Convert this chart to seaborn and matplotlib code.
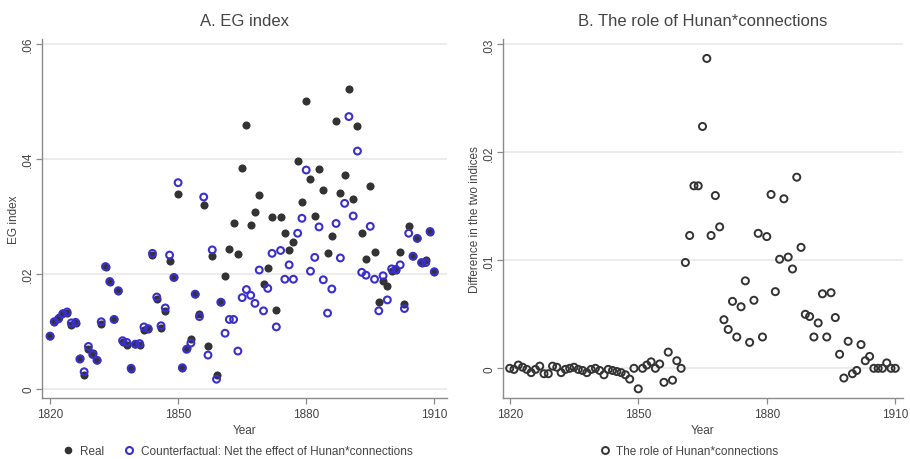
import matplotlib
matplotlib.use("Agg")
import matplotlib.pyplot as plt
from matplotlib.lines import Line2D
import seaborn as sns
import pandas as pd

years = list(range(1820, 1911))

real = [0.0092, 0.0116, 0.0125, 0.0132, 0.0133, 0.0111, 0.0115, 0.0054, 0.0025, 0.0069,
        0.0062, 0.0051, 0.0113, 0.0212, 0.0187, 0.0122, 0.0170, 0.0082, 0.0077, 0.0035,
        0.0078, 0.0077, 0.0102, 0.0104, 0.0234, 0.0157, 0.0106, 0.0135, 0.0223, 0.0194,
        0.0340, 0.0037, 0.0072, 0.0087, 0.0165, 0.0130, 0.0321, 0.0075, 0.0232, 0.0024,
        0.0151, 0.0196, 0.0243, 0.0289, 0.0235, 0.0384, 0.0459, 0.0286, 0.0308, 0.0338,
        0.0183, 0.0210, 0.0299, 0.0137, 0.0299, 0.0271, 0.0241, 0.0255, 0.0396, 0.0326,
        0.0501, 0.0365, 0.0301, 0.0383, 0.0346, 0.0236, 0.0266, 0.0466, 0.0341, 0.0372,
        0.0522, 0.0330, 0.0457, 0.0272, 0.0227, 0.0354, 0.0239, 0.0151, 0.0188, 0.0180,
        0.0206, 0.0207, 0.0239, 0.0148, 0.0284, 0.0231, 0.0262, 0.0220, 0.0225, 0.0274,
        0.0204]

counterfactual = [0.0092, 0.0117, 0.0122, 0.0131, 0.0134, 0.0115, 0.0116, 0.0052, 0.0030, 0.0074,
                  0.0060, 0.0050, 0.0117, 0.0213, 0.0187, 0.0121, 0.0171, 0.0084, 0.0081, 0.0036,
                  0.0078, 0.0079, 0.0108, 0.0105, 0.0236, 0.0160, 0.0110, 0.0141, 0.0233, 0.0194,
                  0.0359, 0.0037, 0.0069, 0.0080, 0.0165, 0.0126, 0.0334, 0.0059, 0.0242, 0.0017,
                  0.0151, 0.0097, 0.0121, 0.0121, 0.0066, 0.0159, 0.0173, 0.0163, 0.0149, 0.0207,
                  0.0136, 0.0175, 0.0236, 0.0108, 0.0241, 0.0191, 0.0216, 0.0191, 0.0271, 0.0297,
                  0.0381, 0.0205, 0.0229, 0.0282, 0.0190, 0.0132, 0.0174, 0.0288, 0.0228, 0.0323,
                  0.0474, 0.0301, 0.0414, 0.0203, 0.0198, 0.0283, 0.0191, 0.0136, 0.0197, 0.0155,
                  0.0209, 0.0208, 0.0216, 0.0140, 0.0271, 0.0231, 0.0262, 0.0220, 0.0220, 0.0274,
                  0.0204]

difference = [0.0, -0.0001, 0.0003, 0.0001, -0.0001, -0.0004, -0.0001, 0.0002, -0.0005, -0.0005,
              0.0002, 0.0001, -0.0004, -0.0001, 0.0, 0.0001, -0.0001, -0.0002, -0.0004, -0.0001,
              0.0, -0.0002, -0.0006, -0.0001, -0.0002, -0.0003, -0.0004, -0.0006, -0.0010, 0.0,
              -0.0019, 0.0, 0.0003, 0.0006, 0.0, 0.0004, -0.0013, 0.0015, -0.0011, 0.0007,
              0.0, 0.0098, 0.0123, 0.0169, 0.0169, 0.0224, 0.0287, 0.0123, 0.0160, 0.0131,
              0.0045, 0.0036, 0.0062, 0.0029, 0.0057, 0.0081, 0.0024, 0.0063, 0.0125, 0.0029,
              0.0122, 0.0161, 0.0071, 0.0101, 0.0157, 0.0103, 0.0092, 0.0177, 0.0112, 0.0050,
              0.0048, 0.0029, 0.0042, 0.0069, 0.0029, 0.0070, 0.0047, 0.0013, -0.0009, 0.0025,
              -0.0005, -0.0002, 0.0022, 0.0007, 0.0011, 0.0, 0.0, 0.0, 0.0005, 0.0,
              0.0]

x_ticks = [1820, 1850, 1880, 1910]
y_ticks_a = [0, 0.02, 0.04, 0.06]
y_ticklabels_a = ["0", ".02", ".04", ".06"]
y_ticks_b = [0, 0.01, 0.02, 0.03]
y_ticklabels_b = ["0", ".01", ".02", ".03"]

title_a = "A. EG index"
title_b = "B. The role of Hunan*connections"
label_real = "Real"
label_cf = "Counterfactual: Net the effect of Hunan*connections"
label_diff = "The role of Hunan*connections"

df_a = pd.DataFrame({"Year": years, "real": real, "cf": counterfactual})
df_b = pd.DataFrame({"Year": years, "diff": difference})

sns.set_style("white")
plt.rcParams["font.family"] = ["Liberation Sans", "DejaVu Sans"]

TXT = "#444444"
AX = "#8a8a8a"
GRID = "#ececec"
DARK = "#333333"
BLUE = "#3a2fcc"

fig = plt.figure(figsize=(9.1, 4.6), dpi=100)
ax1 = fig.add_axes([42 / 910, 1 - 399 / 460, 405 / 910, 359 / 460])
ax2 = fig.add_axes([503 / 910, 1 - 399 / 460, 400 / 910, 359 / 460])


def style(ax, yticks, ylabels, ylim, xlim, ylabel, title):
    ax.set_xlim(*xlim)
    ax.set_ylim(*ylim)
    ax.set_xticks(x_ticks)
    ax.set_xticklabels([str(t) for t in x_ticks])
    ax.set_yticks(yticks)
    ax.set_yticklabels(ylabels, rotation=90, va="center")
    for y in yticks:
        ax.axhline(y, color=GRID, lw=1.4, zorder=0)
    for s in ["top", "right"]:
        ax.spines[s].set_visible(False)
    for s in ["left", "bottom"]:
        ax.spines[s].set_color(AX)
        ax.spines[s].set_linewidth(1.0)
    ax.tick_params(axis="both", colors=AX, labelcolor=TXT, labelsize=8.5,
                   length=4, width=0.9, direction="out", left=True, bottom=True, pad=3)
    ax.tick_params(axis="y", pad=1.5)
    ax.set_xlabel("Year", color=TXT, fontsize=8.5, labelpad=3)
    ax.set_ylabel(ylabel, color=TXT, fontsize=8.5, labelpad=2)
    ax.set_title(title, color=TXT, fontsize=12, pad=10)


sns.scatterplot(data=df_a, x="Year", y="real", ax=ax1, color=DARK, s=34,
                linewidth=0, zorder=3, legend=False)
sns.scatterplot(data=df_a, x="Year", y="cf", ax=ax1, facecolor="none",
                edgecolor=BLUE, s=24, linewidth=1.5, zorder=4, legend=False)
style(ax1, y_ticks_a, y_ticklabels_a, (-0.00157, 0.0609), (1818.13, 1912.97),
      "EG index", title_a)

sns.scatterplot(data=df_b, x="Year", y="diff", ax=ax2, facecolor="none",
                edgecolor=DARK, s=26, linewidth=1.4, zorder=3, legend=False)
style(ax2, y_ticks_b, y_ticklabels_b, (-0.00275, 0.0305), (1818.43, 1911.8),
      "Difference in the two indices", title_b)

h_real = Line2D([], [], marker="o", ls="none", color=DARK, markersize=5.5,
                markeredgewidth=0)
h_cf = Line2D([], [], marker="o", ls="none", markerfacecolor="none",
              markeredgecolor=BLUE, markersize=5, markeredgewidth=1.5)
h_diff = Line2D([], [], marker="o", ls="none", markerfacecolor="none",
                markeredgecolor=DARK, markersize=5, markeredgewidth=1.4)

ax1.legend([h_real, h_cf], [label_real, label_cf], ncol=2, frameon=False,
           loc="center", bbox_to_anchor=(0.481, -0.148), fontsize=8.5,
           labelcolor=TXT, handletextpad=0.4, columnspacing=1.5, handlelength=1.2,
           borderpad=0.1)
ax2.legend([h_diff], [label_diff], ncol=1, frameon=False,
           loc="center", bbox_to_anchor=(0.4625, -0.148), fontsize=8.5,
           labelcolor=TXT, handletextpad=0.4, handlelength=1.2, borderpad=0.1)

fig.savefig("out.png", dpi=100, facecolor="white")
